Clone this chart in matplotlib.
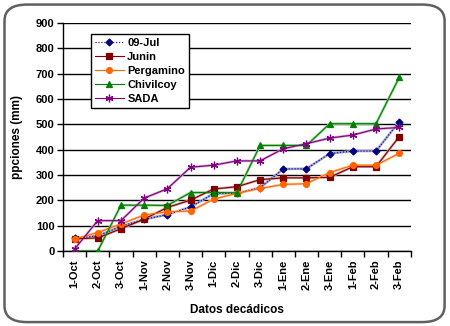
import matplotlib
matplotlib.use("Agg")
import matplotlib.pyplot as plt
from matplotlib.patches import FancyBboxPatch
import numpy as np

plt.rcParams["font.family"] = ["Liberation Sans", "DejaVu Sans"]
plt.rcParams["font.weight"] = "bold"

# datos
categorias = ["1-Oct", "2-Oct", "3-Oct", "1-Nov", "2-Nov", "3-Nov", "1-Dic",
              "2-Dic", "3-Dic", "1-Ene", "2-Ene", "3-Ene", "1-Feb", "2-Feb", "3-Feb"]
jul09 = [50, 60, 97, 125, 144, 174, 227, 228, 250, 324, 325, 385, 395, 395, 511]
junin = [48, 52, 88, 126, 172, 201, 245, 254, 282, 289, 289, 291, 333, 333, 452]
pergamino = [47, 73, 107, 142, 155, 158, 205, 228, 247, 263, 266, 310, 339, 339, 386]
chivilcoy = [0, 0, 181, 181, 180, 231, 231, 230, 417, 417, 417, 503, 503, 503, 686]
sada = [8, 120, 120, 209, 246, 331, 339, 356, 356, 404, 424, 446, 458, 482, 488]

y_ticks = [0, 100, 200, 300, 400, 500, 600, 700, 800, 900]

fig = plt.figure(figsize=(4.5, 3.26), dpi=100)
ax = fig.add_axes([0.14, 0.23, 0.773, 0.699])

x = np.arange(len(categorias))

series = [
    ("09-Jul", jul09, "#000080", "#a0a0d0", "D", 3.5, ":"),
    ("Junin", junin, "#800000", "#d0a0a0", "s", 4.2, "-"),
    ("Pergamino", pergamino, "#ff6600", "#ffc8a0", "o", 4.2, "-"),
    ("Chivilcoy", chivilcoy, "#008000", "#90d090", "^", 4.5, "-"),
    ("SADA", sada, "#800080", "#d0a0d0", (6, 2, 0), 5.5, "-"),
]

for name, vals, col, light, mk, ms, ls in series:
    ax.plot(x, vals, color=light, lw=1.8, zorder=2)
    ax.plot(x, vals, color=col, lw=0.8, ls=ls, marker=mk, ms=ms,
            markerfacecolor=col, markeredgecolor=col, markeredgewidth=0.9,
            label=name, zorder=3)

ax.set_xlim(-0.5, len(categorias) - 0.5)
ax.set_ylim(0, 900)
ax.set_yticks(y_ticks)
ax.set_yticklabels([str(v) for v in y_ticks], fontsize=8, fontweight="bold")
ax.set_xticks(x)
ax.set_xticklabels(categorias, rotation=90, fontsize=8, fontweight="bold")
ax.set_xticks(np.arange(-0.5, len(categorias), 1), minor=True)
ax.tick_params(axis="x", which="major", length=0, pad=6)
ax.tick_params(axis="x", which="minor", length=4, width=1, direction="out")
ax.tick_params(axis="y", length=4, width=1, direction="out", pad=2)

ax.grid(axis="y", color="black", lw=1)
ax.set_axisbelow(True)
for s in ["top", "right"]:
    ax.spines[s].set_visible(False)
ax.spines["left"].set_linewidth(1)
ax.spines["bottom"].set_linewidth(1)

ax.set_xlabel("Datos decádicos", fontsize=8.5, fontweight="bold", labelpad=10)
ax.set_ylabel("ppciones (mm)", fontsize=8.5, fontweight="bold", labelpad=9)

leg = ax.legend(loc="upper left", bbox_to_anchor=(0.065, 0.975), fontsize=8,
                frameon=True, fancybox=False, edgecolor="black",
                handlelength=2.6, handletextpad=0.3, borderpad=0.35,
                labelspacing=0.35)
leg.get_frame().set_linewidth(1)
leg.get_frame().set_alpha(1)
for t in leg.get_texts():
    t.set_fontweight("bold")

border = FancyBboxPatch((0.01, 0.012), 0.978, 0.974,
                        boxstyle="round,pad=0,rounding_size=0.05",
                        transform=fig.transFigure, fill=False,
                        edgecolor="#606060", lw=1.8, zorder=0)
fig.patches.append(border)

fig.savefig("out.png", dpi=100, facecolor="white")
